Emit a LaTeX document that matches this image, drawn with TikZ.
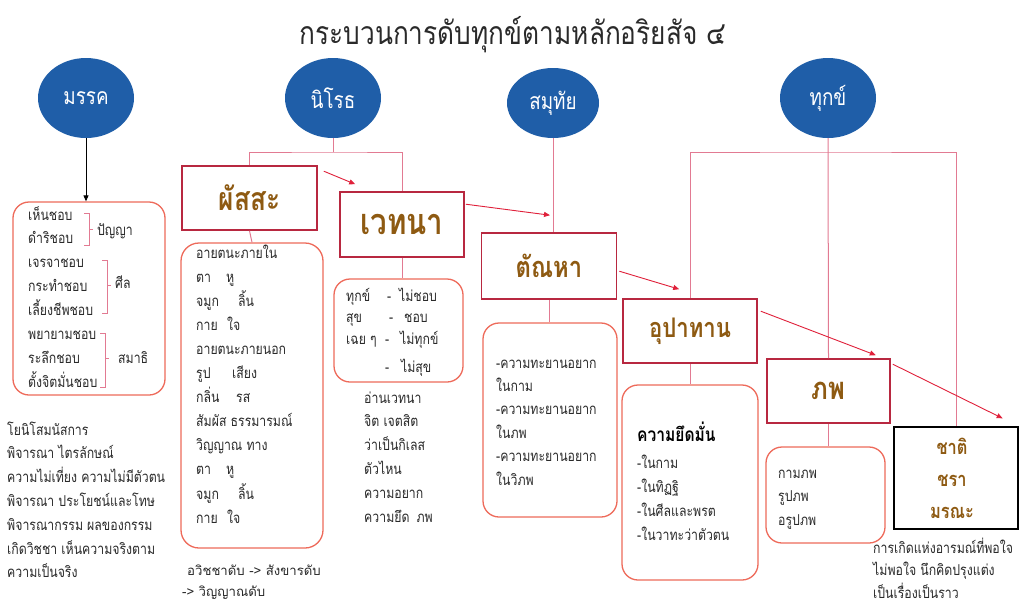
\documentclass[tikz,border=0pt]{standalone}
\usepackage{fontspec}
\newfontfamily\thaic[Script=Thai,FakeStretch=0.82]{Loma}
\newfontfamily\thaiw[Script=Thai]{Loma}
\usetikzlibrary{calc,arrows.meta,shapes.geometric}
\definecolor{ellblue}{HTML}{1F5EA8}
\definecolor{boxred}{HTML}{B82840}
\definecolor{listred}{HTML}{EE6A5A}
\definecolor{linkpink}{HTML}{E27A92}
\definecolor{arrred}{HTML}{E0203A}
\definecolor{titlebrown}{HTML}{8E5A12}
\definecolor{bodycol}{HTML}{2A2A2A}
\newcommand\bodyfont{\thaic\fontsize{15}{17}\selectfont}
\newcommand\sansbody{\thaiw\fontsize{13.2}{15}\selectfont}
\newcommand\titlefont{\thaic\fontsize{32}{35}\selectfont}
\newcommand\ellfont{\thaic\fontsize{23}{26}\selectfont}
\newcommand\boxfont[1]{\thaic\bfseries\fontsize{#1}{#1}\selectfont}
\newcommand\lineblock[5]{%
  \foreach \t [count=\i] in {#5}
    \node[body, name=#1\i] at (#2, {#3+(\i-1)*#4}) {\t};}
\tikzset{
  ell/.style={ellipse, fill=ellblue, draw=none, minimum width=96pt, minimum height=80pt,
    inner sep=0pt, text=white, font=\ellfont},
  tbox/.style={rectangle, draw=boxred, line width=1.6pt, fill=white, inner sep=0pt,
    font=\boxfont{31}, text=titlebrown},
  lbox/.style={rectangle, draw=listred, line width=1.3pt, rounded corners=16pt, inner sep=0pt},
  link/.style={draw=linkpink, line width=1pt},
  arr/.style={draw=arrred, line width=0.9pt, -{Triangle[length=6pt,width=5pt]}},
  marrow/.style={draw=black, line width=0.8pt, -{Triangle[length=6pt,width=5pt]}},
  brk/.style={draw=linkpink, line width=1pt},
  body/.style={anchor=base west, inner sep=0pt, font=\bodyfont, text=bodycol},
  sbody/.style={anchor=base west, inner sep=0pt, font=\sansbody, text=bodycol},
  chtext/.style={anchor=base, inner sep=0pt, font=\boxfont{20}, text=titlebrown},
}
\begin{document}
\begin{tikzpicture}[x=1pt,y=-1pt]
\useasboundingbox[fill=white] (0,0) rectangle (1033,606);

% title
\node[font=\titlefont, text=bodycol, inner sep=0pt] (title) at (513,35) {กระบวนการดับทุกข์ตามหลักอริยสัจ ๔};

% ellipses
\node[ell] (magga) at (86,98) {มรรค};
\node[ell] (nirodha) at (333,98) {นิโรธ};
\node[ell, minimum width=92pt, minimum height=70pt] (samudaya) at (553,103) {สมุทัย};
\node[ell] (dukkha) at (828,98) {ทุกข์};

% title boxes
\node[tbox, minimum width=135pt, minimum height=64pt, font=\boxfont{32}] (phassa) at (249.5,198) {ผัสสะ};
\node[tbox, minimum width=124pt, minimum height=65pt, font=\boxfont{36}] (vedana) at (402,224.5) {เวทนา};
\node[tbox, minimum width=135pt, minimum height=66pt, font=\boxfont{29}] (tanha) at (549,266) {ตัณหา};
\node[tbox, minimum width=134pt, minimum height=64pt, font=\boxfont{27}] (upadana) at (690,331) {อุปาทาน};
\node[tbox, minimum width=123pt, minimum height=64pt, font=\boxfont{31}] (bhava) at (828.5,391) {ภพ};
\node[rectangle, draw=black, line width=1.3pt, minimum width=124pt, minimum height=102pt, inner sep=0pt] (chati) at (956,478) {};

% list boxes
\node[lbox, minimum width=152pt, minimum height=193pt] (mlist) at (89,298.5) {};
\node[lbox, minimum width=142pt, minimum height=305pt, rounded corners=18pt] (plist) at (252,395.5) {};
\node[lbox, minimum width=129pt, minimum height=103pt] (vlist) at (398.5,330.5) {};
\node[lbox, minimum width=134pt, minimum height=194pt] (tlist) at (550,420) {};
\node[lbox, minimum width=136pt, minimum height=195pt] (ulist) at (690,482.5) {};
\node[lbox, minimum width=119pt, minimum height=96pt] (blist) at (825.5,495) {};

% connectors from the noble truths
\draw[marrow] (magga.south) -- (magga.south |- mlist.north);
\coordinate (nbar) at (333,152);
\draw[link] (nirodha.south) -- (nbar);
\draw[link] (phassa.north) |- (nbar) -| (vedana.north);
\draw[link] (samudaya.south) -- (samudaya.south |- tanha.north);
\coordinate (dbar) at (828,152);
\draw[link] (dukkha.south) -- (bhava.north);
\draw[link] (upadana.north) |- (dbar) -| (chati.north);

% box to list
\draw[link] (phassa.south) -- (plist.north);
\draw[link] (vedana.south) -- (vedana.south |- vlist.north);
\draw[link] (tanha.south) -- (tanha.south |- tlist.north);
\draw[link] (upadana.south) -- (upadana.south |- ulist.north);
\draw[link] (bhava.south) -- (bhava.south |- blist.north);

% chain arrows
\draw[arr] ($(phassa.north east)+(6,6)$) -- ($(vedana.north west)+(16,-7)$);
\draw[arr] ($(vedana.north east)+(1,13)$) -- ($(tanha.north)+(1,-17)$);
\draw[arr] ($(tanha.north east)+(2,39)$) -- ($(upadana.north west)+(57,-9)$);
\draw[arr] ($(upadana.north east)+(3,13)$) -- ($(bhava.north east)+(-15,-3)$);
\draw[arr] ($(bhava.north east)+(2,6)$) -- ($(chati.north east)+(-16,-8)$);

% magga list
\lineblock{ml}{28}{220}{23.9}{เห็นชอบ,ดำริชอบ,เจรจาชอบ,กระทำชอบ,เลี้ยงชีพชอบ,พยายามชอบ,ระลึกชอบ,ตั้งจิตมั่นชอบ}
\draw[brk] (84,213) -- (89,213) -- (89,245) -- (84,245) (89,229) -- (93,229);
\draw[brk] (102,260) -- (107,260) -- (107,313) -- (102,313) (107,285) -- (111,285);
\draw[brk] (100,333) -- (105,333) -- (105,387) -- (100,387) (105,358) -- (109,358);
\node[body] (panya) at (97,235) {ปัญญา};
\node[body] (sila) at (115,288) {ศีล};
\node[body] (samadhi) at (118,363) {สมาธิ};

\lineblock{mt}{7}{435}{23.8}{โยนิโสมนัสการ,พิจารณา ไตรลักษณ์,ความไม่เที่ยง ความไม่มีตัวตน,พิจารณา ประโยชน์และโทษ,พิจารณากรรม ผลของกรรม,เกิดวิชชา เห็นความจริงตาม,ความเป็นจริง}

% phassa list
\lineblock{pl}{196}{258}{24.1}{อายตนะภายใน,\makebox[30pt][l]{ตา}หู,\makebox[42pt][l]{จมูก}ลิ้น,\makebox[31pt][l]{กาย}ใจ,อายตนะภายนอก,\makebox[36pt][l]{รูป}เสียง,\makebox[40pt][l]{กลิ่น}รส,สัมผัส ธรรมารมณ์,วิญญาณ ทาง,\makebox[30pt][l]{ตา}หู,\makebox[42pt][l]{จมูก}ลิ้น,\makebox[31pt][l]{กาย}ใจ}
\node[sbody] (av1) at (187,575) {อวิชชาดับ -> สังขารดับ};
\node[sbody] (av2) at (182,596) {-> วิญญาณดับ};

% vedana list
\node[body] (vl1) at (346,301) {\makebox[41pt][l]{ทุกข์}\makebox[12pt][l]{-}ไม่ชอบ};
\node[body] (vl2) at (346,322) {\makebox[43pt][l]{สุข}\makebox[15pt][l]{-}ชอบ};
\node[body] (vl3) at (346,344) {\makebox[39pt][l]{เฉย ๆ}\makebox[15pt][l]{-}ไม่ทุกข์};
\node[body] (vl4) at (385,372) {\makebox[16pt][l]{-}ไม่สุข};
\lineblock{vt}{364}{403}{23.8}{อ่านเวทนา,จิต เจตสิต,ว่าเป็นกิเลส,ตัวไหน,ความอยาก,ความยึด\hspace{7pt}ภพ}

% tanha list
\lineblock{tl}{496}{368}{23.4}{-ความทะยานอยาก,ในกาม,-ความทะยานอยาก,ในภพ,-ความทะยานอยาก,ในวิภพ}

% upadana list
\node[body, font=\boxfont{19}, text=black] (yud) at (637,441) {ความยึดมั่น};
\lineblock{ul}{637}{468}{24.3}{-ในกาม,-ในทิฏฐิ,-ในศีลและพรต,-ในวาทะว่าตัวตน}

% bhava list
\lineblock{bl}{778}{478}{23.5}{กามภพ,รูปภพ,อรูปภพ}

% chati
\node[chtext] (c1) at (952,454) {ชาติ};
\node[chtext] (c2) at (952,486) {ชรา};
\node[chtext] (c3) at (952,518) {มรณะ};
\lineblock{ct}{873}{553}{22.5}{การเกิดแห่งอารมณ์ที่พอใจ,ไม่พอใจ นึกคิดปรุงแต่ง,เป็นเรื่องเป็นราว}
\end{tikzpicture}
\end{document}
